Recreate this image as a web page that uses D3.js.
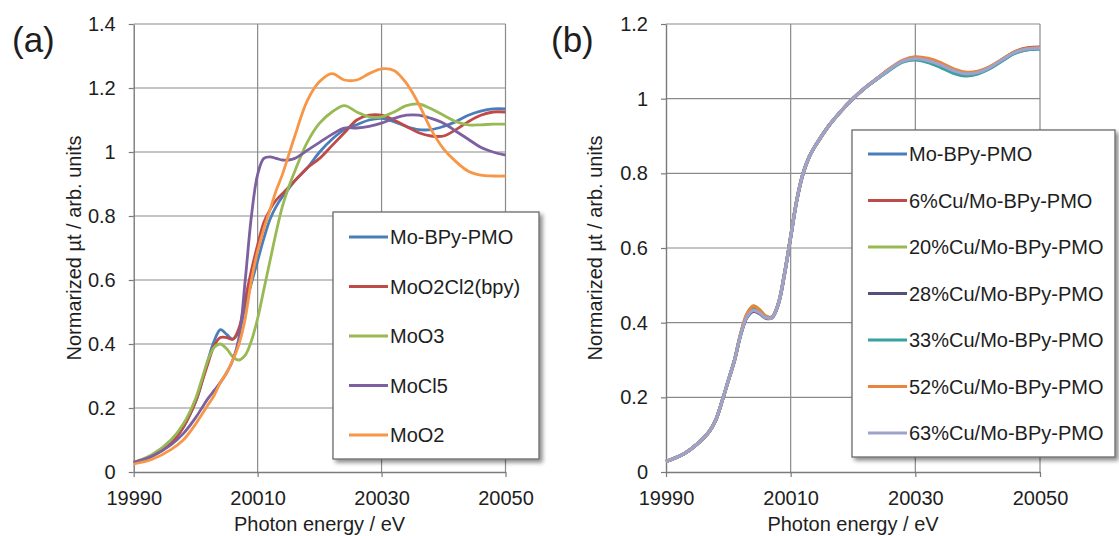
<!DOCTYPE html>
<html>
<head>
<meta charset="utf-8">
<script src="https://cdn.jsdelivr.net/npm/d3@7"></script>
<style>
body{margin:0;background:#fff;}
svg{display:block;font-family:"Liberation Sans",Arial,sans-serif;}
.tick text{font-size:20px;fill:#1e1e1e;}
</style>
</head>
<body>
<script>
// energies (eV)
const energyA=[19990,19993,19996,19998,20000,20001,20002,20003,20004,20005,20006,20007,20008,20009,20010,20011,20012,20013,20014,20015,20016,20018,20020,20022,20024,20026,20028,20030,20032,20034,20036,20038,20040,20042,20044,20046,20048,20050];
// panel (a) series
const moBpyPmo=[0.03,0.05,0.09,0.14,0.22,0.28,0.35,0.41,0.445,0.43,0.415,0.44,0.52,0.59,0.66,0.73,0.79,0.83,0.86,0.885,0.91,0.95,1.0,1.04,1.07,1.085,1.1,1.105,1.095,1.08,1.07,1.07,1.08,1.095,1.115,1.128,1.135,1.135];
const moO2Cl2bpy=[0.03,0.05,0.09,0.14,0.22,0.28,0.34,0.395,0.42,0.42,0.415,0.45,0.54,0.63,0.71,0.78,0.82,0.85,0.87,0.89,0.91,0.95,0.98,1.02,1.06,1.1,1.115,1.115,1.1,1.08,1.06,1.05,1.05,1.07,1.095,1.115,1.125,1.125];
const moO3=[0.03,0.055,0.1,0.15,0.23,0.29,0.35,0.39,0.4,0.385,0.36,0.35,0.365,0.41,0.48,0.57,0.66,0.75,0.83,0.89,0.94,1.03,1.09,1.125,1.145,1.125,1.11,1.11,1.125,1.145,1.15,1.135,1.115,1.095,1.085,1.085,1.087,1.087];
const moCl5=[0.03,0.05,0.085,0.12,0.17,0.2,0.23,0.255,0.28,0.31,0.35,0.42,0.6,0.8,0.93,0.98,0.985,0.98,0.975,0.975,0.98,1.005,1.03,1.055,1.075,1.075,1.08,1.09,1.105,1.115,1.115,1.105,1.09,1.065,1.04,1.015,1.0,0.99];
const moO2=[0.025,0.04,0.07,0.1,0.15,0.18,0.21,0.24,0.28,0.31,0.35,0.4,0.48,0.6,0.69,0.76,0.82,0.88,0.93,0.99,1.05,1.16,1.22,1.245,1.225,1.225,1.245,1.26,1.255,1.215,1.15,1.07,1.01,0.97,0.94,0.928,0.925,0.925];
const namesA=["Mo-BPy-PMO","MoO2Cl2(bpy)","MoO3","MoCl5","MoO2"];
const colorsA=["#4a7ebb","#be4b48","#98b954","#7d60a0","#f79646"];

// panel (b) series
const energyB=[19990,19993,19995,19997,19998,19999,20000,20001,20002,20003,20004,20005,20006,20007,20008,20009,20010,20011,20012,20013,20014,20016,20018,20020,20022,20024,20026,20028,20030,20032,20034,20036,20038,20040,20042,20044,20046,20048,20050];
const cu0=[0.028,0.05,0.075,0.11,0.14,0.19,0.245,0.3,0.37,0.418,0.435,0.428,0.414,0.414,0.45,0.53,0.63,0.73,0.8,0.845,0.875,0.925,0.965,1.0,1.03,1.055,1.08,1.1,1.106,1.1,1.088,1.073,1.064,1.068,1.082,1.103,1.122,1.131,1.133];
const cu6=[0.028,0.05,0.075,0.11,0.14,0.19,0.245,0.3,0.37,0.42,0.44,0.43,0.415,0.415,0.45,0.53,0.63,0.73,0.8,0.845,0.875,0.925,0.965,1.0,1.03,1.056,1.081,1.101,1.108,1.103,1.092,1.077,1.068,1.07,1.084,1.106,1.126,1.136,1.138];
const cu20=[0.028,0.05,0.075,0.11,0.14,0.19,0.245,0.3,0.372,0.424,0.445,0.435,0.418,0.415,0.45,0.53,0.63,0.73,0.8,0.845,0.875,0.925,0.965,1.0,1.03,1.055,1.08,1.1,1.108,1.104,1.094,1.079,1.07,1.072,1.085,1.105,1.124,1.133,1.135];
const cu28=[0.028,0.05,0.075,0.11,0.14,0.19,0.245,0.3,0.368,0.414,0.43,0.424,0.412,0.413,0.448,0.528,0.628,0.728,0.8,0.845,0.875,0.925,0.965,1.0,1.03,1.055,1.08,1.1,1.107,1.103,1.092,1.077,1.068,1.07,1.084,1.105,1.125,1.134,1.136];
const cu33=[0.028,0.05,0.075,0.11,0.14,0.19,0.245,0.3,0.37,0.418,0.437,0.43,0.415,0.414,0.45,0.53,0.63,0.73,0.8,0.845,0.875,0.925,0.965,1.0,1.03,1.054,1.078,1.098,1.104,1.097,1.084,1.069,1.061,1.066,1.081,1.102,1.122,1.131,1.134];
const cu52=[0.028,0.05,0.075,0.11,0.14,0.19,0.245,0.3,0.372,0.424,0.444,0.434,0.417,0.415,0.45,0.53,0.63,0.73,0.8,0.845,0.875,0.925,0.965,1.0,1.03,1.056,1.082,1.103,1.112,1.108,1.097,1.081,1.071,1.073,1.086,1.106,1.126,1.135,1.137];
const cu63=[0.028,0.05,0.075,0.11,0.14,0.19,0.245,0.3,0.369,0.416,0.433,0.426,0.413,0.413,0.449,0.529,0.629,0.729,0.8,0.845,0.875,0.925,0.965,1.0,1.03,1.055,1.08,1.1,1.107,1.102,1.091,1.076,1.067,1.07,1.084,1.105,1.124,1.133,1.135];
const namesB=["Mo-BPy-PMO","6%Cu/Mo-BPy-PMO","20%Cu/Mo-BPy-PMO","28%Cu/Mo-BPy-PMO","33%Cu/Mo-BPy-PMO","52%Cu/Mo-BPy-PMO","63%Cu/Mo-BPy-PMO"];
const colorsB=["#4a7ebb","#be4b48","#98b954","#54507d","#3aa0a0","#e8843e","#9ea3cc"];

const xTicks=[19990,20010,20030,20050];
const yTicksA=[0,0.2,0.4,0.6,0.8,1,1.2,1.4];
const yTicksB=[0,0.2,0.4,0.6,0.8,1,1.2];

const svg=d3.select('body').append('svg').attr('width',1119).attr('height',536);

const defs=svg.append('defs');
const f=defs.append('filter').attr('id','shadow').attr('x','-5%').attr('y','-5%').attr('width','115%').attr('height','115%');
f.append('feDropShadow').attr('dx',3).attr('dy',3).attr('stdDeviation',2).attr('flood-color','#000').attr('flood-opacity',0.45);

function panel(opt){
    const x=d3.scaleLinear().domain([19990,20050]).range(opt.xr);
    const y=d3.scaleLinear().domain([0,opt.ymax]).range([472,24]);
    const g=svg.append('g');

    // gridlines
    g.selectAll('.hg').data(opt.yTicks.filter(d=>d>0)).enter().append('line')
        .attr('x1',opt.xr[0]).attr('x2',opt.xr[1]).attr('y1',d=>y(d)).attr('y2',d=>y(d))
        .attr('stroke','#8a8a8a').attr('stroke-width',1.2);
    g.selectAll('.vg').data(xTicks.slice(1)).enter().append('line')
        .attr('x1',d=>x(d)).attr('x2',d=>x(d)).attr('y1',24).attr('y2',472)
        .attr('stroke','#8a8a8a').attr('stroke-width',1.2);

    // axes
    const ax=g.append('g').attr('transform','translate(0,472)')
        .call(d3.axisBottom(x).tickValues(xTicks).tickSize(5).tickSizeOuter(0).tickPadding(14).tickFormat(d3.format('d')));
    const ay=g.append('g').attr('transform','translate('+opt.xr[0]+',0)')
        .call(d3.axisLeft(y).tickValues(opt.yTicks).tickSize(5).tickSizeOuter(0).tickPadding(13).tickFormat(d=>String(+d.toFixed(1))));
    [ax,ay].forEach(a=>{
        a.select('.domain').attr('stroke','#7a7a7a').attr('stroke-width',1.4);
        a.selectAll('.tick line').attr('stroke','#7a7a7a').attr('stroke-width',1.2);
        a.selectAll('.tick text').attr('font-family','"Liberation Sans",Arial,sans-serif');
    });

    // curves
    const line=d3.line().x((d,i)=>x(opt.energy[i])).y(d=>y(d)).curve(d3.curveCatmullRom.alpha(0.5));
    opt.series.forEach((s,i)=>{
        g.append('path').attr('d',line(s)).attr('fill','none')
            .attr('stroke',opt.colors[i]).attr('stroke-width',opt.lw).attr('stroke-linejoin','round');
    });

    // titles
    g.append('text').attr('x',(opt.xr[0]+opt.xr[1])/2).attr('y',531).attr('text-anchor','middle')
        .attr('font-size','20px').attr('fill','#1e1e1e').text('Photon energy / eV');
    g.append('text').attr('transform','translate('+opt.ytx+',248) rotate(-90)').attr('text-anchor','middle')
        .attr('dominant-baseline','central').attr('font-size','20px').attr('fill','#1e1e1e').text('Normarized \u00b5t / arb. units');
    g.append('text').attr('x',opt.lx).attr('y',52).attr('font-size','35px').attr('fill','#1e1e1e').text(opt.label);

    // legend
    const lg=g.append('g');
    lg.append('rect').attr('x',opt.box[0]).attr('y',opt.box[1]).attr('width',opt.box[2]).attr('height',opt.box[3])
        .attr('fill','#fff').attr('stroke','#6b6b6b').attr('stroke-width',1.3).attr('filter','url(#shadow)');
    opt.names.forEach((n,i)=>{
        const yy=opt.ly0+i*opt.lstep;
        lg.append('line').attr('x1',opt.lline).attr('x2',opt.lline+39).attr('y1',yy).attr('y2',yy)
            .attr('stroke',opt.colors[i]).attr('stroke-width',3);
        lg.append('text').attr('x',opt.lline+41).attr('y',yy).attr('dominant-baseline','central')
            .attr('font-size','20px').attr('fill','#1e1e1e').text(n);
    });
}

panel({xr:[133.7,505.5],ymax:1.4,yTicks:yTicksA,energy:energyA,lw:2.8,
    series:[moBpyPmo,moO2Cl2bpy,moO3,moCl5,moO2],colors:colorsA,names:namesA,
    ytx:74,lx:12,label:'(a)',box:[333,212,206,247],ly0:237,lstep:49.5,lline:349});

panel({xr:[666,1040],ymax:1.2,yTicks:yTicksB,energy:energyB,lw:3.2,
    series:[cu0,cu6,cu20,cu28,cu33,cu52,cu63],colors:colorsB,names:namesB,
    ytx:595,lx:551,label:'(b)',box:[852,130,263,327],ly0:154,lstep:46.5,lline:868});
</script>
</body>
</html>
